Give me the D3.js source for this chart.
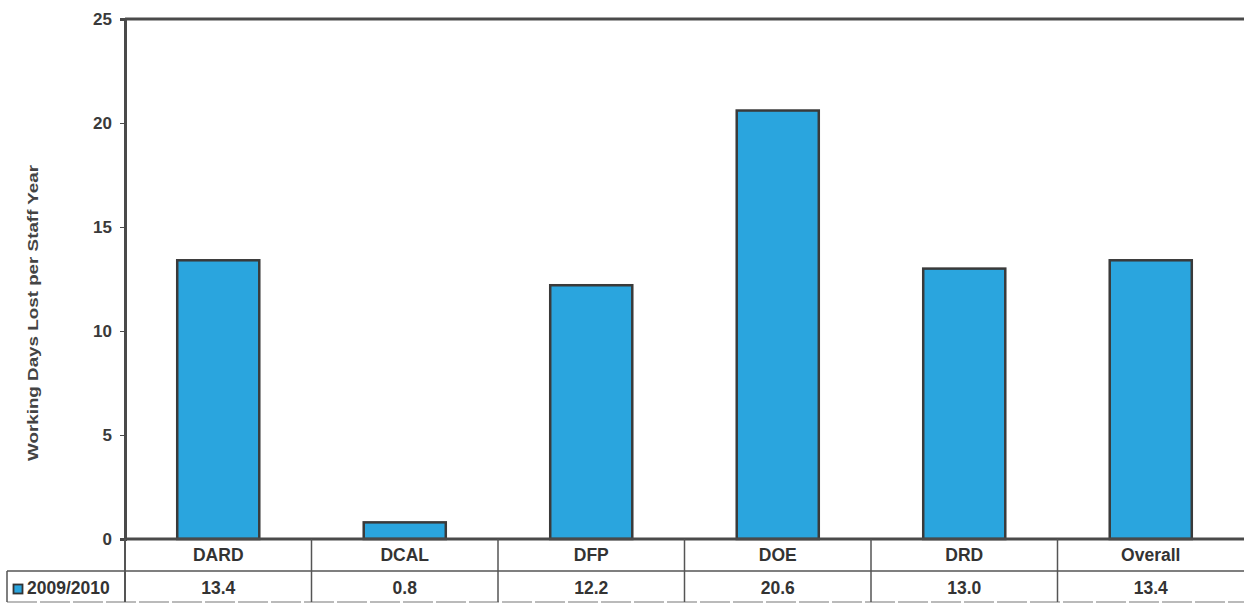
<!DOCTYPE html>
<html>
<head>
<meta charset="utf-8">
<script src="https://cdn.jsdelivr.net/npm/d3@7"></script>
<style>
  html, body { margin: 0; padding: 0; background: #fff; }
  svg { display: block; font-family: "Liberation Sans", Arial, sans-serif; }
</style>
</head>
<body>
<svg id="chart" width="1244" height="603"></svg>
<script>
// Sickness absence by department, 2009/2010
const categories = ["DARD", "DCAL", "DFP", "DOE", "DRD", "Overall"];
const values = [13.4, 0.8, 12.2, 20.6, 13.0, 13.4];
const valueLabels = ["13.4", "0.8", "12.2", "20.6", "13.0", "13.4"];
const seriesName = "2009/2010";
const yTicks = [0, 5, 10, 15, 20, 25];

(function draw() {
  const svg = d3.select("#chart");
  const plotLeft = 125, plotRight = 1244, plotTop = 19, zeroY = 539;
  const row1 = 571, row2 = 602, legendLeft = 7;

  const x = d3.scaleBand().domain(categories).range([plotLeft, plotRight]).paddingInner(0).paddingOuter(0);
  const y = d3.scaleLinear().domain([0, 25]).range([zeroY, plotTop]);

  const axisColor = "#4a4a4a";
  const textColor = "#333";
  const barFill = "#2aa5de";

  // Bars
  const barW = x.bandwidth() * 0.44;
  svg.append("g").selectAll("rect").data(categories).join("rect")
    .attr("x", d => x(d) + (x.bandwidth() - barW) / 2)
    .attr("y", (d, i) => y(values[i]))
    .attr("width", barW)
    .attr("height", (d, i) => y(0) - y(values[i]))
    .attr("fill", barFill)
    .attr("stroke", "#3a3a3a")
    .attr("stroke-width", 2.5);

  // Y axis
  const yAxis = d3.axisLeft(y).tickValues(yTicks).tickSize(5).tickPadding(8).tickFormat(d3.format("d"));
  const ya = svg.append("g").attr("transform", `translate(${plotLeft},0)`).call(yAxis);
  ya.select(".domain").attr("stroke", axisColor).attr("stroke-width", 3);
  ya.selectAll(".tick line").attr("stroke", axisColor).attr("stroke-width", 1);
  ya.selectAll(".tick text")
    .attr("fill", "#3a3a3a").attr("font-size", 17).attr("font-weight", "bold")
    .attr("font-family", "'Liberation Sans', Arial, sans-serif");

  // Top frame line
  svg.append("line").attr("x1", plotLeft).attr("x2", plotRight).attr("y1", plotTop).attr("y2", plotTop)
    .attr("stroke", axisColor).attr("stroke-width", 3);

  // Baseline
  svg.append("line").attr("x1", plotLeft).attr("x2", plotRight).attr("y1", zeroY).attr("y2", zeroY)
    .attr("stroke", axisColor).attr("stroke-width", 3);

  // Y axis title
  svg.append("text")
    .attr("transform", "translate(38,313) rotate(-90)")
    .attr("text-anchor", "middle")
    .attr("font-size", 15).attr("font-weight", "bold").attr("fill", "#444")
    .attr("textLength", 296).attr("lengthAdjust", "spacingAndGlyphs")
    .text("Working Days Lost per Staff Year");

  // Data table below the axis
  const g = svg.append("g");
  g.append("line").attr("x1", legendLeft).attr("x2", plotRight).attr("y1", row1).attr("y2", row1)
    .attr("stroke", "#555").attr("stroke-width", 1.5);
  g.append("line").attr("x1", legendLeft).attr("x2", plotRight).attr("y1", row2).attr("y2", row2)
    .attr("stroke", "#777").attr("stroke-width", 1.2).attr("stroke-dasharray", "30,3");
  g.append("line").attr("x1", legendLeft).attr("x2", legendLeft).attr("y1", row1).attr("y2", row2)
    .attr("stroke", "#555").attr("stroke-width", 1.5);
  g.append("line").attr("x1", plotLeft).attr("x2", plotLeft).attr("y1", zeroY).attr("y2", row2)
    .attr("stroke", "#555").attr("stroke-width", 2);
  g.selectAll("line.sep").data(categories.slice(1)).join("line").attr("class", "sep")
    .attr("x1", d => x(d)).attr("x2", d => x(d))
    .attr("y1", zeroY).attr("y2", row2)
    .attr("stroke", "#555").attr("stroke-width", 1.5);

  g.selectAll("text.cat").data(categories).join("text").attr("class", "cat")
    .attr("x", d => x(d) + x.bandwidth() / 2)
    .attr("y", 561)
    .attr("text-anchor", "middle").attr("font-size", 17.5).attr("font-weight", "bold").attr("fill", textColor)
    .text(d => d);

  g.selectAll("text.val").data(categories).join("text").attr("class", "val")
    .attr("x", d => x(d) + x.bandwidth() / 2)
    .attr("y", 593.5)
    .attr("text-anchor", "middle").attr("font-size", 17.5).attr("font-weight", "bold").attr("fill", textColor)
    .text((d, i) => valueLabels[i]);

  // Legend key in the table
  g.append("rect").attr("x", 13.5).attr("y", 584.5).attr("width", 9).attr("height", 9)
    .attr("fill", barFill).attr("stroke", "#333").attr("stroke-width", 1.8);
  g.append("text").attr("x", 27).attr("y", 594)
    .attr("font-size", 17.5).attr("font-weight", "bold").attr("fill", textColor)
    .text(seriesName);
})();
</script>
</body>
</html>
